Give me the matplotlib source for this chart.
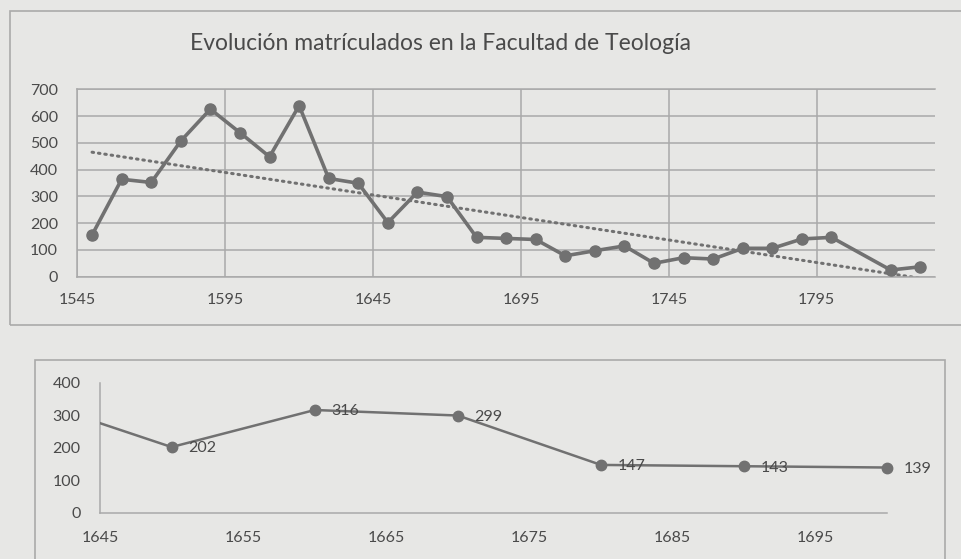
import numpy as np
import matplotlib.pyplot as plt
from matplotlib.patches import Rectangle

plt.rcParams['font.family'] = ['Lato', 'DejaVu Sans']

# matriculados por decada (grafico superior)
years = [1550, 1560, 1570, 1580, 1590, 1600, 1610, 1620, 1630, 1640,
         1650, 1660, 1670, 1680, 1690, 1700, 1710, 1720, 1730, 1740,
         1750, 1760, 1770, 1780, 1790, 1800, 1820, 1830]
students = [156, 364, 352, 507, 626, 538, 448, 639, 367, 349,
            202, 316, 299, 147, 143, 139, 78, 97, 115, 50,
            71, 66, 106, 106, 141, 147, 25, 37]

# detalle 1640-1700 (grafico inferior)
det_years = [1640, 1650, 1660, 1670, 1680, 1690, 1700]
det_students = [349, 202, 316, 299, 147, 143, 139]

title = "Evolución matrículados en la Facultad de Teología"
top_xticks = [1545, 1595, 1645, 1695, 1745, 1795]
top_yticks = [0, 100, 200, 300, 400, 500, 600, 700]
bot_xticks = [1645, 1655, 1665, 1675, 1685, 1695]
bot_yticks = [0, 100, 200, 300, 400]

bg = '#e7e7e5'
line_c = '#717171'
txt_c = '#4a4a4a'
grid_c = '#a9a9a9'

fig = plt.figure(figsize=(9.61, 5.59), dpi=100, facecolor=bg)

# chart borders
fig.patches.append(Rectangle((10/961, 1-325/559), 1.0, (325-11)/559,
                             transform=fig.transFigure, fill=False,
                             ec='#aaaaaa', lw=1.2))
fig.patches.append(Rectangle((35/961, -0.1), (945-35)/961, 0.1+(559-360)/559,
                             transform=fig.transFigure, fill=False,
                             ec='#aaaaaa', lw=1.2))

fig.text(441/961, 1-43/559, title, ha='center', va='center',
         fontsize=16.5, color=txt_c)

##top chart
ax1 = fig.add_axes([77.3/961, 1-276.7/559, (935-77.3)/961, 187.4/559])
ax1.set_facecolor(bg)
ax1.plot(years, students, color=line_c, lw=2.6, marker='o', ms=8,
         mfc=line_c, mec=line_c, zorder=3)

# linear trend (as excel)
coef = np.polyfit(years, students, 1)
tx = np.array([years[0], years[-1]])
ax1.plot(tx, np.polyval(coef, tx), color=line_c, lw=2.2, ls=(0, (0.5, 1.6)),
         dash_capstyle='round', zorder=2)

ax1.set_xlim(1545, 1835)
ax1.set_ylim(0, 700)
ax1.set_xticks(top_xticks)
ax1.set_yticks(top_yticks)
ax1.grid(True, color=grid_c, lw=1.1)
ax1.set_axisbelow(True)
ax1.tick_params(length=0, labelsize=11.5, labelcolor=txt_c)
ax1.tick_params(axis='y', pad=14)
ax1.tick_params(axis='x', pad=12)
for s in ['left', 'top', 'bottom']:
    ax1.spines[s].set_color(grid_c)
    ax1.spines[s].set_linewidth(1.1)
ax1.spines['right'].set_visible(False)

##bottom chart
ax2 = fig.add_axes([100/961, 1-512.7/559, 787.3/961, 130/559])
ax2.set_facecolor(bg)
# line clipped at 1645, markers only for visible points
ax2.plot(det_years, det_students, color=line_c, lw=1.8, zorder=3)
vis = [(x, y) for x, y in zip(det_years, det_students) if x >= 1645]
ax2.plot([v[0] for v in vis], [v[1] for v in vis], ls='none', marker='o',
         ms=7.5, mfc=line_c, mec=line_c, zorder=4, clip_on=False)
for x, y in vis:
    ax2.annotate(str(y), (x, y), xytext=(12, -1), textcoords='offset points',
                 ha='left', va='center', fontsize=11.5, color=txt_c)
ax2.set_xlim(1645, 1700)
ax2.set_ylim(0, 400)
ax2.set_xticks(bot_xticks)
ax2.set_yticks(bot_yticks)
ax2.tick_params(length=0, labelsize=11.5, labelcolor=txt_c)
ax2.tick_params(axis='y', pad=14)
ax2.tick_params(axis='x', pad=13)
for s in ['top', 'right']:
    ax2.spines[s].set_visible(False)
for s in ['left', 'bottom']:
    ax2.spines[s].set_color(grid_c)
    ax2.spines[s].set_linewidth(1.1)

fig.savefig('out.png', dpi=100, facecolor=bg)
